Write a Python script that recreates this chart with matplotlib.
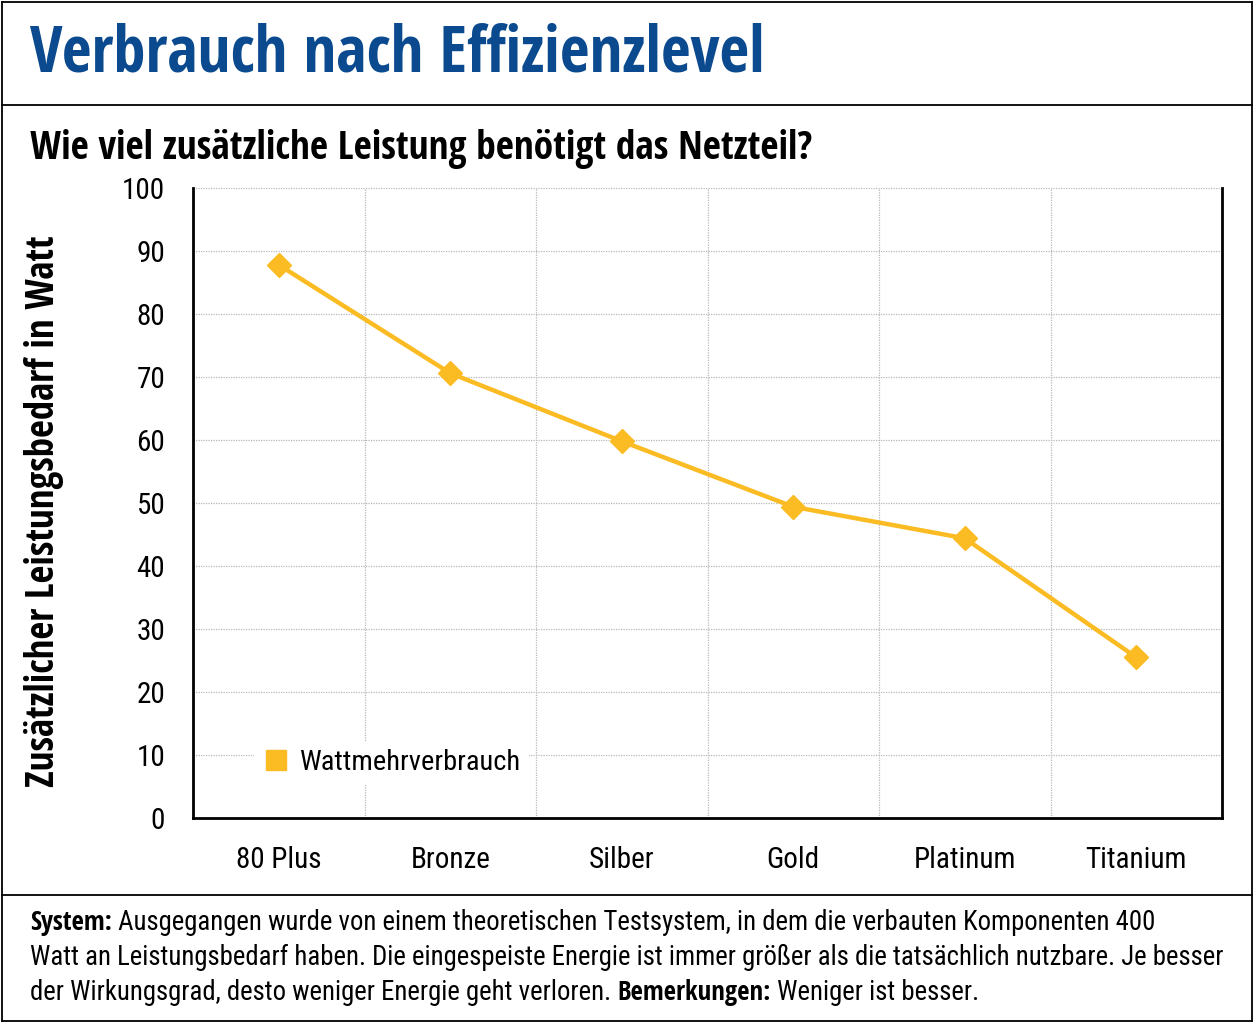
import matplotlib
matplotlib.use("Agg")
import matplotlib.pyplot as plt
from matplotlib.lines import Line2D

# data
levels = ["80 Plus", "Bronze", "Silber", "Gold", "Platinum", "Titanium"]
watt_extra = [87.8, 70.6, 59.8, 49.4, 44.4, 25.5]
y_ticks = [0, 10, 20, 30, 40, 50, 60, 70, 80, 90, 100]

BOLD_FONT = ["Open Sans Condensed", "Roboto Condensed", "DejaVu Sans"]
REG_FONT = ["Roboto Condensed", "DejaVu Sans"]
BLUE = "#0b4a8e"
YELLOW = "#fbbb22"
GRID = "#b8b8b8"

plt.rcParams["font.family"] = REG_FONT

W, H = 1255, 1024
fig = plt.figure(figsize=(W / 100, H / 100), dpi=100, facecolor="white")


def fx(px):
    return px / W


def fy(py):
    return 1 - py / H


# frame lines
def hline(y, x0=2, x1=1252):
    fig.add_artist(Line2D([fx(x0), fx(x1)], [fy(y), fy(y)], color="black", lw=1.3))


def vline(x, y0=2, y1=1021):
    fig.add_artist(Line2D([fx(x), fx(x)], [fy(y0), fy(y1)], color="black", lw=1.3))


hline(2)
hline(105)
hline(895)
hline(1021)
vline(2)
vline(1252)

fig.text(fx(30), fy(55), "Verbrauch nach Effizienzlevel", color=BLUE, family=BOLD_FONT,
         fontsize=46.5, fontweight="bold", va="center", ha="left")
fig.text(fx(30), fy(149), "Wie viel zusätzliche Leistung benötigt das Netzteil?", family=BOLD_FONT,
         color="black", fontsize=28.4, fontweight="bold", va="center", ha="left")
fig.text(fx(44), fy(511), "Zusätzlicher Leistungsbedarf in Watt", rotation=90, family=BOLD_FONT,
         color="black", fontsize=28, fontweight="bold", va="center", ha="center")

ax = fig.add_axes([fx(193), fy(818), fx(1222) - fx(193), fy(188) - fy(818)])
x = list(range(len(levels)))
ax.plot(x, watt_extra, color=YELLOW, lw=3.2, marker="D", markersize=12,
        markeredgecolor=YELLOW, zorder=3, label="Wattmehrverbrauch")
ax.set_xlim(-0.5, len(levels) - 0.5)
ax.set_ylim(0, 100)
ax.set_yticks(y_ticks)
ax.set_xticks(x)
ax.set_xticklabels(levels)
ax.set_xticks([i + 0.5 for i in x[:-1]], minor=True)
ax.grid(True, which="major", axis="y", color=GRID, lw=0.9, ls=(0, (1, 1)))
ax.grid(True, which="minor", axis="x", color=GRID, lw=0.9, ls=(0, (1, 1)))
ax.tick_params(axis="both", which="both", length=0, labelsize=21)
ax.tick_params(axis="y", pad=20)
ax.tick_params(axis="x", pad=20)
for s in ["left", "bottom", "right"]:
    ax.spines[s].set_linewidth(2)
    ax.spines[s].set_color("black")
ax.spines["top"].set_visible(False)

handle = Line2D([], [], color=YELLOW, marker="s", ls="none", markersize=15)
leg = ax.legend([handle], ["Wattmehrverbrauch"], loc="lower left",
                bbox_to_anchor=(0.045, 0.03), frameon=True, fontsize=20.5,
                handletextpad=0.3, borderpad=0.3, handlelength=1.0)
leg.get_frame().set_edgecolor("none")
leg.get_frame().set_facecolor("white")
leg.get_frame().set_alpha(1)

# footer with mixed bold / regular runs
renderer = fig.canvas.get_renderer()
lines = [
    [("System:", "bold"), (" Ausgegangen wurde von einem theoretischen Testsystem, in dem die verbauten Komponenten 400", "normal")],
    [("Watt an Leistungsbedarf haben. Die eingespeiste Energie ist immer größer als die tatsächlich nutzbare. Je besser", "normal")],
    [("der Wirkungsgrad, desto weniger Energie geht verloren. ", "normal"), ("Bemerkungen:", "bold"), (" Weniger ist besser.", "normal")],
]
line_y = [922, 957, 993]
for runs, yy in zip(lines, line_y):
    xpos = fx(30)
    for txt, wt in runs:
        fam = BOLD_FONT if wt == "bold" else REG_FONT
        t = fig.text(xpos, fy(yy), txt, fontsize=19.3, fontweight=wt, family=fam,
                     va="center", ha="left", color="black")
        bb = t.get_window_extent(renderer=renderer)
        xpos += bb.width / W

fig.savefig("out.png", dpi=100, facecolor="white")
